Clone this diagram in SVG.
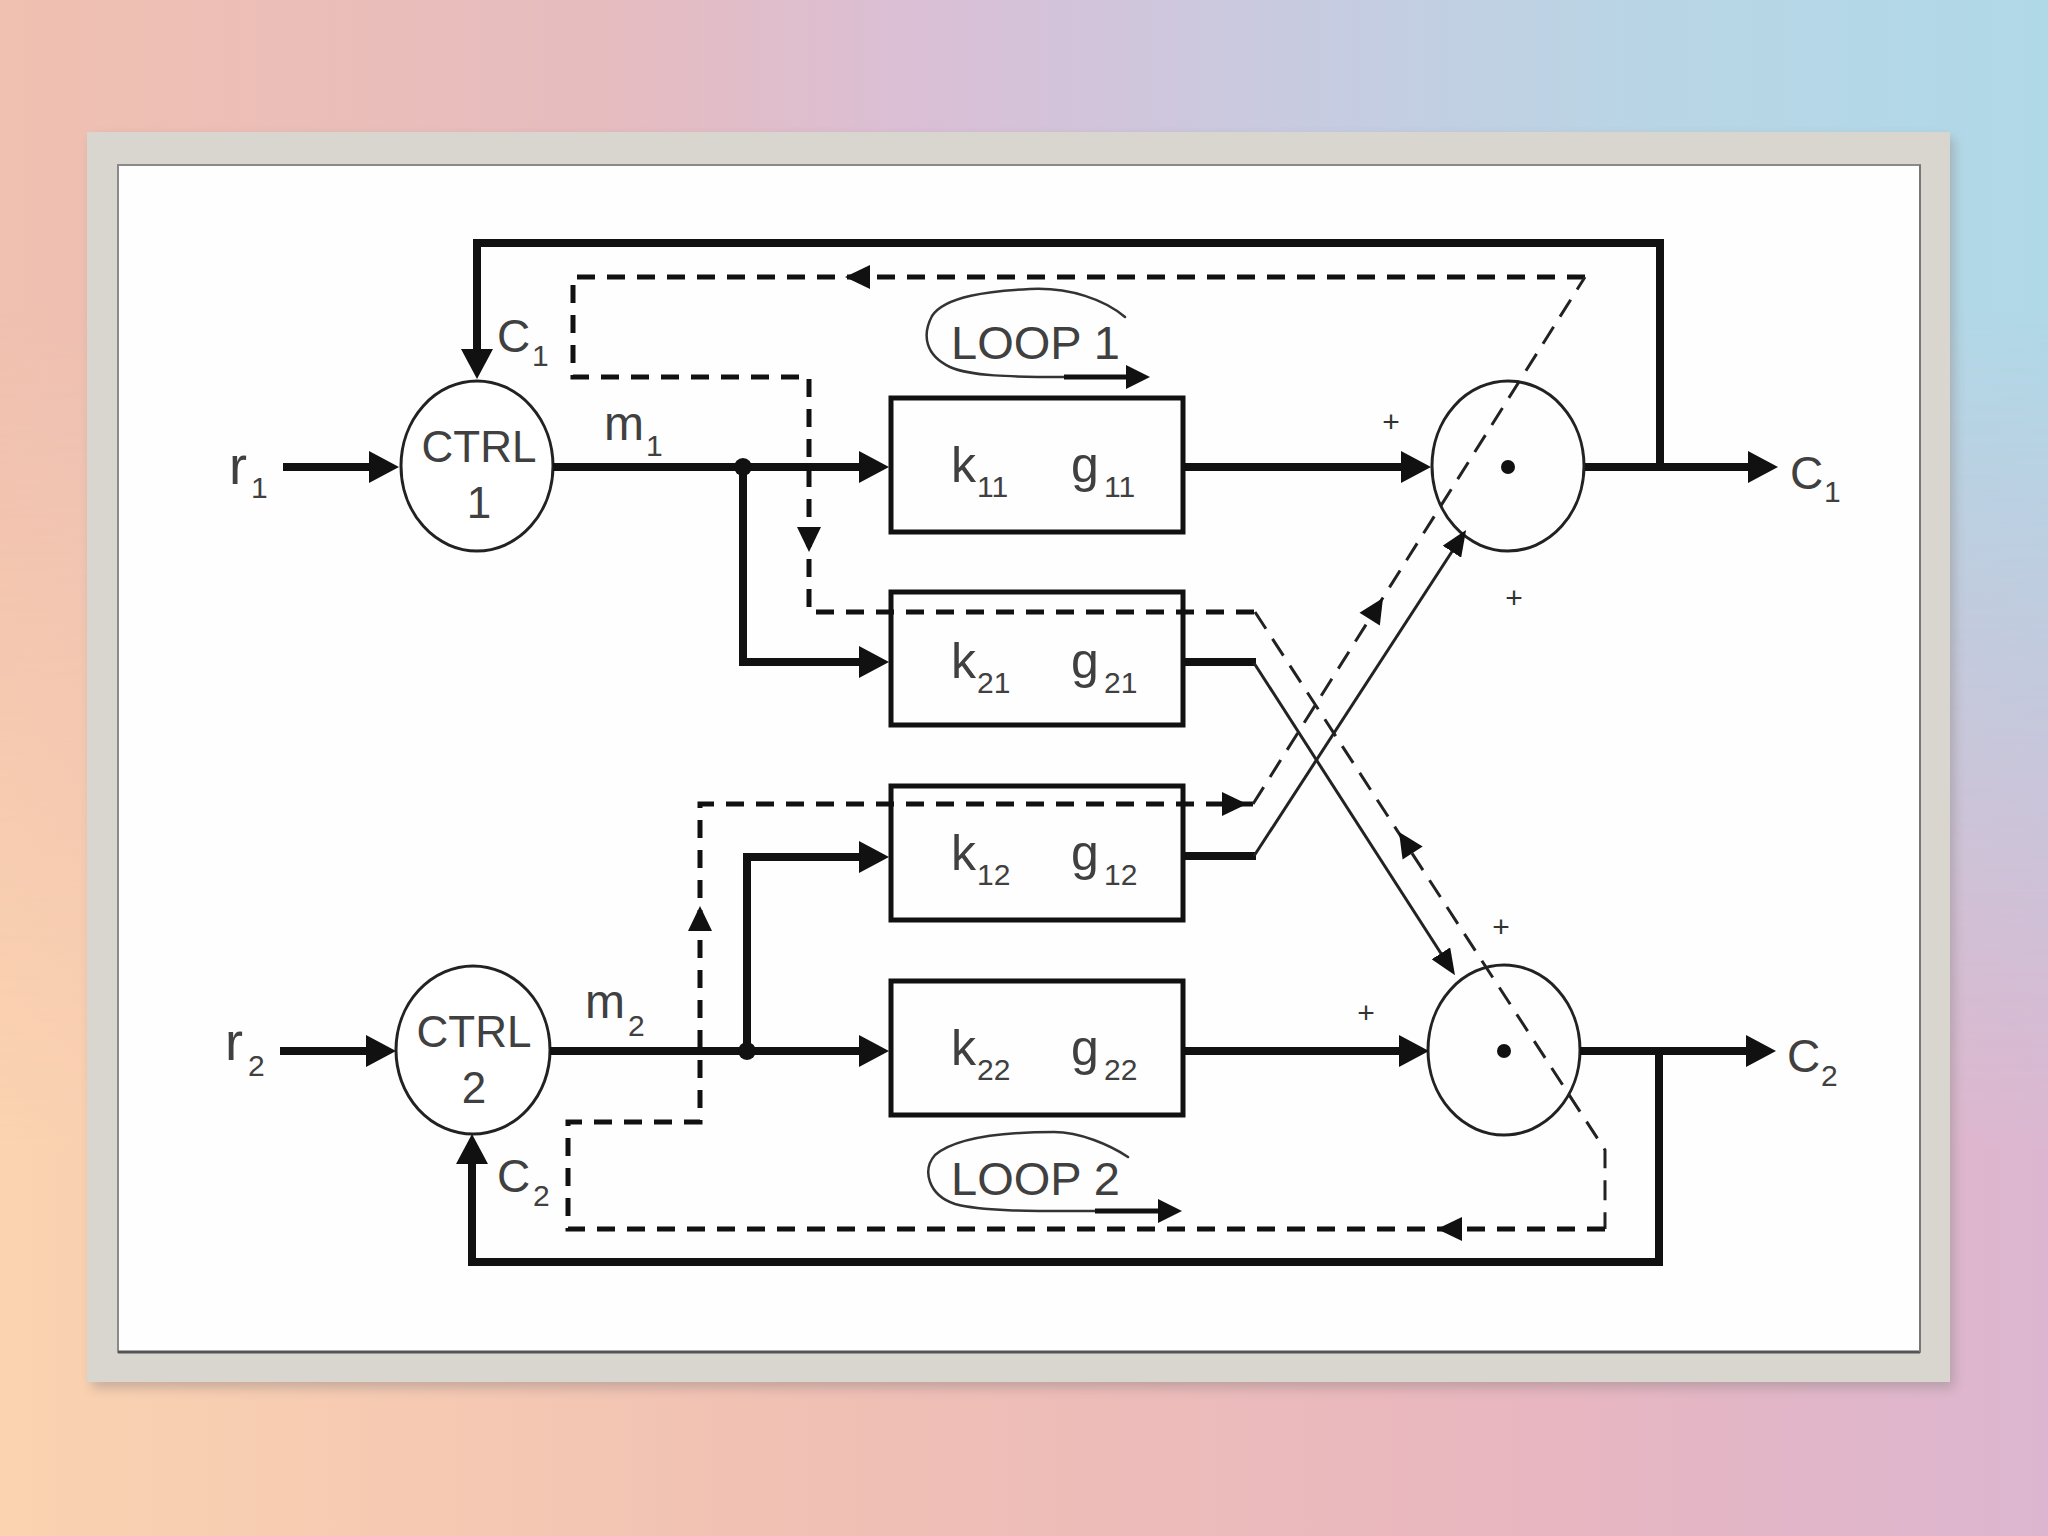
<svg xmlns="http://www.w3.org/2000/svg" xmlns:xlink="http://www.w3.org/1999/xlink" width="2048" height="1536" viewBox="0 0 2048 1536">
  <defs>
    <linearGradient id="bgTop" x1="0" y1="0" x2="1" y2="0">
      <stop offset="0" stop-color="#f0c0b0"/>
      <stop offset="0.3" stop-color="#e6bcc0"/>
      <stop offset="0.45" stop-color="#dabfd6"/>
      <stop offset="0.62" stop-color="#c9cae0"/>
      <stop offset="0.8" stop-color="#b9d5e5"/>
      <stop offset="1" stop-color="#b0d9e8"/>
    </linearGradient>
    <linearGradient id="bgBot" x1="0" y1="0" x2="1" y2="0">
      <stop offset="0" stop-color="#fbd3b0"/>
      <stop offset="0.4" stop-color="#f0c0b4"/>
      <stop offset="0.75" stop-color="#e8b6c0"/>
      <stop offset="1" stop-color="#dcb6d0"/>
    </linearGradient>
    <linearGradient id="fadeV" x1="0" y1="0" x2="0" y2="1">
      <stop offset="0.2" stop-color="#fff" stop-opacity="0"/>
      <stop offset="0.75" stop-color="#fff" stop-opacity="1"/>
    </linearGradient>
    <mask id="botMask">
      <rect x="0" y="0" width="2048" height="1536" fill="url(#fadeV)"/>
    </mask>
    <filter id="shadow" x="-5%" y="-5%" width="110%" height="115%">
      <feGaussianBlur stdDeviation="6"/>
    </filter>
    <marker id="ah" markerUnits="userSpaceOnUse" viewBox="0 0 30 32" refX="2" refY="16" markerWidth="30" markerHeight="32" orient="auto">
      <path d="M0,0 L30,16 L0,32 z" fill="#111"/>
    </marker>
    <marker id="aht" markerUnits="userSpaceOnUse" viewBox="0 0 26 22" refX="2" refY="11" markerWidth="26" markerHeight="22" orient="auto">
      <path d="M0,0 L26,11 L0,22 z" fill="#111"/>
    </marker>
    <marker id="ahs" markerUnits="userSpaceOnUse" viewBox="0 0 24 24" refX="2" refY="12" markerWidth="24" markerHeight="24" orient="auto">
      <path d="M0,0 L24,12 L0,24 z" fill="#111"/>
    </marker>
    <path id="dah" d="M0,0 L-25,-12 L-25,12 z" fill="#111"/>
    <style>
      .thick { fill: none; stroke: #111; stroke-width: 8; stroke-linejoin: miter; stroke-linecap: butt; }
      .thin { fill: none; stroke: #222; stroke-width: 3; }
      .box { fill: none; stroke: #111; stroke-width: 5; }
      .circ { fill: #fff; stroke: #222; stroke-width: 3; }
      .sum { fill: none; stroke: #222; stroke-width: 3; }
      .dash { fill: none; stroke: #111; stroke-width: 5; stroke-dasharray: 18 12; }
      .dashThin { fill: none; stroke: #222; stroke-width: 3; stroke-dasharray: 20 12; }
      .scribble { fill: none; stroke: #333; stroke-width: 2.5; stroke-linecap: round; }
      text { font-family: "Liberation Sans", Arial, sans-serif; fill: #404040; }
      .lab { font-size: 46px; }
      .sub { font-size: 30px; }
      .kg { font-size: 50px; }
      .plus { font-size: 30px; text-anchor: middle; fill: #333; }
      .ctrl { font-size: 44px; text-anchor: middle; }
    </style>
  </defs>

  <!-- background -->
  <rect x="0" y="0" width="2048" height="1536" fill="url(#bgTop)"/>
  <rect x="0" y="0" width="2048" height="1536" fill="url(#bgBot)" mask="url(#botMask)"/>

  <!-- frame -->
  <rect x="92" y="138" width="1862" height="1250" fill="#8a8080" opacity="0.45" filter="url(#shadow)"/>
  <rect x="87" y="132" width="1863" height="1250" fill="#d9d6cf"/>
  <rect x="118" y="165" width="1802" height="1187" fill="#fefefe" stroke="#8a8a88" stroke-width="2"/>
  <line x1="118" y1="1352" x2="1920" y2="1352" stroke="#555" stroke-width="3"/>
  <line x1="1920" y1="165" x2="1920" y2="1352" stroke="#777" stroke-width="2"/>

  <!-- nodes -->
  <g id="ctrl1">
    <ellipse class="circ" cx="477" cy="466" rx="76" ry="85"/>
    <text class="ctrl" x="479" y="462">CTRL</text>
    <text class="ctrl" x="479" y="518">1</text>
  </g>
  <g id="ctrl2">
    <ellipse class="circ" cx="473" cy="1050" rx="77" ry="84"/>
    <text class="ctrl" x="474" y="1047">CTRL</text>
    <text class="ctrl" x="474" y="1103">2</text>
  </g>
  <g id="box11">
    <rect class="box" x="891" y="398" width="292" height="134"/>
    <text class="kg" x="951" y="482">k</text><text class="sub" x="977" y="497">11</text>
    <text class="kg" x="1071" y="482">g</text><text class="sub" x="1104" y="497">11</text>
  </g>
  <g id="box21">
    <rect class="box" x="891" y="592" width="292" height="133"/>
    <text class="kg" x="951" y="678">k</text><text class="sub" x="977" y="693">21</text>
    <text class="kg" x="1071" y="678">g</text><text class="sub" x="1104" y="693">21</text>
  </g>
  <g id="box12">
    <rect class="box" x="891" y="786" width="292" height="134"/>
    <text class="kg" x="951" y="870">k</text><text class="sub" x="977" y="885">12</text>
    <text class="kg" x="1071" y="870">g</text><text class="sub" x="1104" y="885">12</text>
  </g>
  <g id="box22">
    <rect class="box" x="891" y="981" width="292" height="134"/>
    <text class="kg" x="951" y="1065">k</text><text class="sub" x="977" y="1080">22</text>
    <text class="kg" x="1071" y="1065">g</text><text class="sub" x="1104" y="1080">22</text>
  </g>
  <g id="sum1">
    <ellipse class="sum" cx="1508" cy="466" rx="76" ry="85"/>
    <circle cx="1508" cy="467" r="7" fill="#111"/>
  </g>
  <g id="sum2">
    <ellipse class="sum" cx="1504" cy="1050" rx="76" ry="85"/>
    <circle cx="1504" cy="1051" r="7" fill="#111"/>
  </g>

  <!-- connectors -->
  <g id="connectors">
    <!-- loop dashed path -->
    <path class="dash" d="M1585,277 H573 V377 H809 V612 H1255"/>
    <path class="dashThin" d="M1255,612 L1605,1150 V1229"/>
    <path class="dash" d="M1605,1229 H568 V1122 H700 V804 H1253"/>
    <path class="dashThin" d="M1253,804 L1585,277"/>
    <use xlink:href="#dah" transform="translate(845,277) rotate(180)"/>
    <use xlink:href="#dah" transform="translate(809,552) rotate(90)"/>
    <use xlink:href="#dah" transform="translate(1437,1229) rotate(180)"/>
    <use xlink:href="#dah" transform="translate(700,906) rotate(-90)"/>
    <use xlink:href="#dah" transform="translate(1247,804)"/>
    <use xlink:href="#dah" transform="translate(1383,598) rotate(-57.8)"/>
    <use xlink:href="#dah" transform="translate(1399,832) rotate(-123)"/>

    <!-- solid signal lines -->
    <path class="thick" d="M283,467 H371" marker-end="url(#ah)"/>
    <path class="thick" d="M553,467 H861" marker-end="url(#ah)"/>
    <path class="thick" d="M743,467 V662 H861" marker-end="url(#ah)"/>
    <path class="thick" d="M1183,467 H1403" marker-end="url(#ah)"/>
    <path class="thick" d="M1585,467 H1750" marker-end="url(#ah)"/>
    <path class="thick" d="M1660,467 V243 H477 V351" marker-end="url(#ah)"/>
    <path class="thick" d="M280,1051 H368" marker-end="url(#ah)"/>
    <path class="thick" d="M550,1051 H861" marker-end="url(#ah)"/>
    <path class="thick" d="M747,1051 V857 H861" marker-end="url(#ah)"/>
    <path class="thick" d="M1183,1051 H1401" marker-end="url(#ah)"/>
    <path class="thick" d="M1580,1051 H1748" marker-end="url(#ah)"/>
    <path class="thick" d="M1659,1051 V1262 H472 V1162" marker-end="url(#ah)"/>
    <path class="thick" d="M1183,662 H1256"/>
    <path class="thick" d="M1183,856 H1256"/>
    <path class="thin" d="M1254,663 L1442,955" marker-end="url(#aht)"/>
    <path class="thin" d="M1254,856 L1453,550" marker-end="url(#aht)"/>
    <circle cx="743" cy="467" r="9" fill="#111"/>
    <circle cx="747" cy="1051" r="9" fill="#111"/>
  </g>

  <!-- labels -->
  <g id="labels">
    <text x="229" y="484" font-size="54">r</text><text class="sub" x="251" y="498">1</text>
    <text x="225" y="1060" font-size="54">r</text><text class="sub" x="248" y="1076">2</text>
    <text x="604" y="440" font-size="48">m</text><text class="sub" x="646" y="456">1</text>
    <text x="585" y="1018" font-size="48">m</text><text class="sub" x="628" y="1036">2</text>
    <text class="lab" x="497" y="352">C</text><text class="sub" x="532" y="366">1</text>
    <text class="lab" x="497" y="1192">C</text><text class="sub" x="533" y="1206">2</text>
    <text class="lab" x="1790" y="489">C</text><text class="sub" x="1824" y="502">1</text>
    <text class="lab" x="1787" y="1072">C</text><text class="sub" x="1821" y="1086">2</text>
    <text class="plus" x="1391" y="432">+</text>
    <text class="plus" x="1514" y="608">+</text>
    <text class="plus" x="1501" y="937">+</text>
    <text class="plus" x="1366" y="1023">+</text>
  </g>

  <g id="loop1">
    <text x="951" y="359" font-size="47">LOOP  1</text>
    <path class="scribble" d="M1125,317 C1105,300 1070,287 1030,289 C990,291 945,296 932,316 C922,335 925,355 950,367 C970,376 1010,377 1064,377"/>
    <path d="M1064,377 H1128" stroke="#111" stroke-width="5" fill="none" marker-end="url(#ahs)"/>
  </g>
  <g id="loop2">
    <text x="951" y="1195" font-size="47">LOOP  2</text>
    <path class="scribble" d="M1128,1157 C1110,1145 1080,1132 1054,1132 C1020,1132 960,1134 935,1155 C922,1170 928,1195 955,1204 C985,1212 1040,1211 1095,1211"/>
    <path d="M1095,1211 H1160" stroke="#111" stroke-width="5" fill="none" marker-end="url(#ahs)"/>
  </g>
</svg>
